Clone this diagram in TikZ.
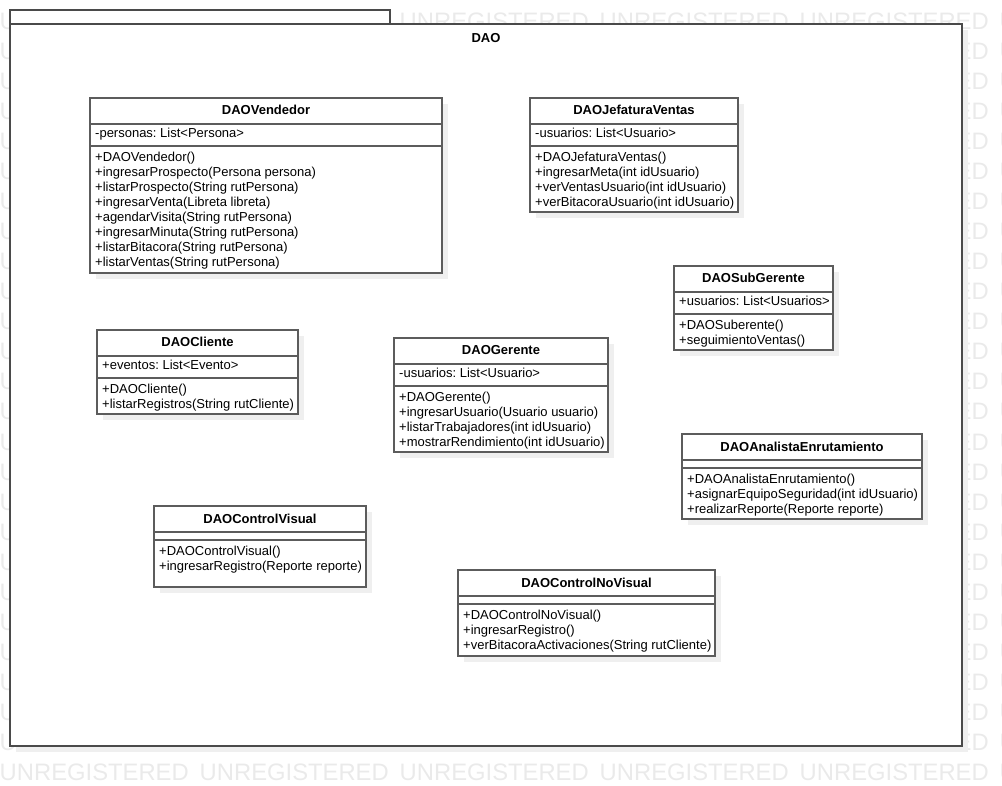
\documentclass[tikz,border=0pt]{standalone}
\usepackage{fontspec}
\setmainfont{Liberation Sans}
\frenchspacing
\definecolor{linec}{HTML}{5C5C5C}
\definecolor{framec}{HTML}{4A4A4A}
\definecolor{shadowc}{HTML}{EFEFEF}
\definecolor{wmc}{HTML}{EAEAEA}
\newcommand\clsbox[5]{%
  \fill[shadowc] (#1+6,#2+6) rectangle (#3+6,#4+6);
  \draw[cls] (#1,#2) rectangle (#3,#4);
  \foreach \s in {#5} \draw[sepline] (#1,\s) -- (#3,\s);
}
\newcommand\oplines[4]{%
  \foreach \t [count=\i] in {#4} \node[txt] (#1\i) at (#2,{#3+15*(\i-1)}) {\t};
}
\begin{document}
\begin{tikzpicture}[x=1pt,y=-1pt,
  cls/.style={draw=linec,line width=1.2pt,fill=white},
  sepline/.style={draw=linec,line width=1.2pt},
  framebox/.style={draw=framec,line width=1.5pt,fill=white},
  ttl/.style={font=\fontsize{13}{15}\selectfont\bfseries,inner sep=0pt,anchor=base},
  txt/.style={font=\fontsize{13}{15}\selectfont,inner sep=0pt,anchor=base west},
  wm/.style={font=\fontsize{23.8}{26}\selectfont,text=wmc,inner sep=0pt,anchor=base west}]
\useasboundingbox (0,0) rectangle (1002,786);
% watermark
\foreach \r in {0,...,25}
  \foreach \c in {0,...,5}
    \node[wm] (w\r-\c) at ({-0.5+200*\c},{30+30*\r}) {UNREGISTERED};
% package frame
\fill[shadowc] (16,30) rectangle (968,752);
\draw[framebox] (10,10) rectangle (390,24);
\draw[framebox] (10,24) rectangle (962,746);
\node[ttl] (dao) at (486,42.5) {DAO};
% DAOVendedor
\clsbox{90}{98}{442}{273}{124,146}
\node[ttl] (vt) at (266,115) {DAOVendedor};
\node[txt] (va) at (95,138) {-personas: List<Persona>};
\oplines{vo}{95}{161.5}{{+DAOVendedor()},{+ingresarProspecto(Persona persona)},{+listarProspecto(String rutPersona)},{+ingresarVenta(Libreta libreta)},{+agendarVisita(String rutPersona)},{+ingresarMinuta(String rutPersona)},{+listarBitacora(String rutPersona)},{+listarVentas(String rutPersona)}}
% DAOJefaturaVentas
\clsbox{530}{98}{738}{212}{124,146}
\node[ttl] (jt) at (634,115) {DAOJefaturaVentas};
\node[txt] (ja) at (535,138) {-usuarios: List<Usuario>};
\oplines{jo}{535}{161.5}{{+DAOJefaturaVentas()},{+ingresarMeta(int idUsuario)},{+verVentasUsuario(int idUsuario)},{+verBitacoraUsuario(int idUsuario)}}
% DAOSubGerente
\clsbox{674}{266}{833}{350}{292,314}
\node[ttl] (st) at (753.5,283) {DAOSubGerente};
\node[txt] (sa) at (679,306) {+usuarios: List<Usuarios>};
\oplines{so}{679}{329.5}{{+DAOSuberente()},{+seguimientoVentas()}}
% DAOCliente
\clsbox{97}{330}{298}{414}{356,378}
\node[ttl] (ct) at (197.5,347) {DAOCliente};
\node[txt] (ca) at (102,370) {+eventos: List<Evento>};
\oplines{co}{102}{393.5}{{+DAOCliente()},{+listarRegistros(String rutCliente)}}
% DAOGerente
\clsbox{394}{338}{608}{452}{364,386}
\node[ttl] (gt) at (501,355) {DAOGerente};
\node[txt] (ga) at (399,378) {-usuarios: List<Usuario>};
\oplines{go}{399}{401.5}{{+DAOGerente()},{+ingresarUsuario(Usuario usuario)},{+listarTrabajadores(int idUsuario)},{+mostrarRendimiento(int idUsuario)}}
% DAOAnalistaEnrutamiento
\clsbox{682}{434}{922}{519}{460,468}
\node[ttl] (at) at (802,451) {DAOAnalistaEnrutamiento};
\oplines{ao}{687}{483.5}{{+DAOAnalistaEnrutamiento()},{+asignarEquipoSeguridad(int idUsuario)},{+realizarReporte(Reporte reporte)}}
% DAOControlVisual
\clsbox{154}{506}{366}{587}{532,540}
\node[ttl] (cvt) at (260,523) {DAOControlVisual};
\oplines{cvo}{159}{555.5}{{+DAOControlVisual()},{+ingresarRegistro(Reporte reporte)}}
% DAOControlNoVisual
\clsbox{458}{570}{715}{656}{596,604}
\node[ttl] (cnt) at (586.5,587) {DAOControlNoVisual};
\oplines{cno}{463}{619.5}{{+DAOControlNoVisual()},{+ingresarRegistro()},{+verBitacoraActivaciones(String rutCliente)}}
\end{tikzpicture}
\end{document}
